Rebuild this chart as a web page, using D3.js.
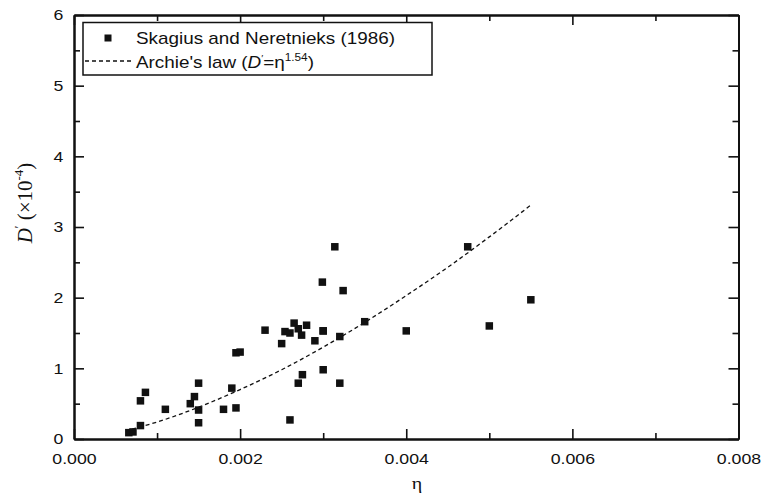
<!DOCTYPE html>
<html>
<head>
<meta charset="utf-8">
<script src="https://cdn.jsdelivr.net/npm/d3@7"></script>
<style>
    body { margin: 0; background: #fff; }
    text { font-family: "Liberation Sans", Arial, sans-serif; fill: #111; }
    .axis path, .axis line { stroke: #111; }
</style>
</head>
<body>
<svg id="chart" width="761" height="493"></svg>
<script>
// measured points, Skagius and Neretnieks (1986)
const etaValues = [0.00066, 0.00071, 0.0008, 0.0008, 0.00086, 0.0011, 0.0014, 0.00145, 0.0015, 0.0015,
    0.0015, 0.0018, 0.0019, 0.00195, 0.00195, 0.002, 0.0023, 0.0025, 0.00254, 0.0026,
    0.0026, 0.00265, 0.0027, 0.0027, 0.00274, 0.00275, 0.0028, 0.0029, 0.003, 0.003,
    0.003, 0.00299, 0.00314, 0.0032, 0.0032, 0.00324, 0.0035, 0.004, 0.00474, 0.005, 0.0055];
const dValues = [0.09, 0.1, 0.19, 0.54, 0.66, 0.42, 0.5, 0.6, 0.79, 0.41,
    0.23, 0.42, 0.72, 0.44, 1.22, 1.23, 1.54, 1.35, 1.52, 1.5,
    0.27, 1.64, 1.56, 0.79, 1.47, 0.91, 1.61, 1.39, 1.53, 0.98,
    1.53, 2.22, 2.72, 1.45, 0.79, 2.1, 1.66, 1.53, 2.72, 1.6, 1.97];

// Archie's law curve
const archieEta = [0.0007, 0.001, 0.0015, 0.002, 0.0025, 0.003, 0.0035, 0.004, 0.0045, 0.005, 0.0055];
const archieD = [0.14, 0.24, 0.45, 0.70, 0.98, 1.30, 1.65, 2.03, 2.43, 2.86, 3.31];

const xMajor = [0, 0.002, 0.004, 0.006, 0.008];
const xMinor = [0.001, 0.003, 0.005, 0.007];
const yMajor = [0, 1, 2, 3, 4, 5, 6];
const yMinor = [0.5, 1.5, 2.5, 3.5, 4.5, 5.5];

const svg = d3.select("#chart");
const stretch = 1.18;

const x = d3.scaleLinear().domain([0, 0.008]).range([74, 738.5]);
const y = d3.scaleLinear().domain([0, 6]).range([439, 15]);

function drawAxis(axis, transform, labels) {
    const g = svg.append("g")
      .attr("class", "axis")
      .attr("transform", transform)
      .call(axis);
    g.select(".domain").attr("stroke-width", 2);
    g.selectAll(".tick line").attr("stroke-width", 1.6);
    g.selectAll("text")
      .style("font-size", "15px")
      .style("opacity", labels ? 1 : 0)
      .attr("transform", `scale(${stretch},1)`);
    return g;
}

const fmtX = d3.format(".3f");
drawAxis(d3.axisBottom(x).tickValues(xMajor).tickFormat(fmtX).tickSizeInner(-10).tickSizeOuter(0).tickPadding(14),
    `translate(0,${y(0)})`, true);
drawAxis(d3.axisBottom(x).tickValues(xMinor).tickFormat("").tickSizeInner(-6).tickSizeOuter(0),
    `translate(0,${y(0)})`, false);
drawAxis(d3.axisTop(x).tickValues(xMajor).tickFormat("").tickSizeInner(-10).tickSizeOuter(0),
    `translate(0,${y(6)})`, false);
drawAxis(d3.axisTop(x).tickValues(xMinor).tickFormat("").tickSizeInner(-6).tickSizeOuter(0),
    `translate(0,${y(6)})`, false);
drawAxis(d3.axisLeft(y).tickValues(yMajor).tickFormat(d3.format("d")).tickSizeInner(-10).tickSizeOuter(0).tickPadding(9),
    `translate(${x(0)},0)`, true);
drawAxis(d3.axisLeft(y).tickValues(yMinor).tickFormat("").tickSizeInner(-6).tickSizeOuter(0),
    `translate(${x(0)},0)`, false);
drawAxis(d3.axisRight(y).tickValues(yMajor).tickFormat("").tickSizeInner(-10).tickSizeOuter(0),
    `translate(${x(0.008)},0)`, false);
drawAxis(d3.axisRight(y).tickValues(yMinor).tickFormat("").tickSizeInner(-6).tickSizeOuter(0),
    `translate(${x(0.008)},0)`, false);

// dashed Archie's law line
const curve = archieEta.map((e, i) => [e, archieD[i]]);
svg.append("path")
  .datum(curve)
  .attr("fill", "none")
  .attr("stroke", "#111")
  .attr("stroke-width", 1.3)
  .attr("stroke-dasharray", "4,3")
  .attr("d", d3.line().x(d => x(d[0])).y(d => y(d[1])).curve(d3.curveMonotoneX));

// square markers
const sq = 7.5;
svg.selectAll(".dot")
  .data(etaValues.map((e, i) => [e, dValues[i]]))
  .enter().append("rect")
  .attr("class", "dot")
  .attr("x", d => x(d[0]) - sq / 2)
  .attr("y", d => y(d[1]) - sq / 2)
  .attr("width", sq)
  .attr("height", sq)
  .attr("fill", "#111");

// legend
const lg = svg.append("g");
lg.append("rect")
  .attr("x", 83).attr("y", 22.5).attr("width", 349).attr("height", 52.5)
  .attr("fill", "#fff").attr("stroke", "#111").attr("stroke-width", 1.5);
lg.append("rect")
  .attr("x", 104.5).attr("y", 34.5).attr("width", 7).attr("height", 7).attr("fill", "#111");
lg.append("line")
  .attr("x1", 85).attr("x2", 132).attr("y1", 61).attr("y2", 61)
  .attr("stroke", "#111").attr("stroke-width", 1.3).attr("stroke-dasharray", "4,3");
lg.append("text")
  .attr("transform", `translate(136,43.5) scale(${stretch},1)`)
  .style("font-size", "16px")
  .text("Skagius and Neretnieks (1986)");
const t2 = lg.append("text")
  .attr("transform", `translate(136,68) scale(${stretch},1)`)
  .style("font-size", "16px");
t2.append("tspan").text("Archie's law (");
t2.append("tspan").style("font-style", "italic").text("D");
t2.append("tspan").attr("dy", -7).style("font-size", "9px").text("′");
t2.append("tspan").attr("dy", 7).text("=η");
t2.append("tspan").attr("dy", -7).style("font-size", "10px").text("1.54");
t2.append("tspan").attr("dy", 7).text(")");

// axis titles
svg.append("text")
  .attr("transform", `translate(417,489) scale(${stretch},1)`)
  .attr("text-anchor", "middle")
  .style("font-family", "'Liberation Serif', 'Times New Roman', serif")
  .style("font-size", "17px")
  .text("η");

const yl = svg.append("text")
  .attr("transform", "translate(32,203) rotate(-90)")
  .attr("text-anchor", "middle")
  .style("font-family", "'Liberation Serif', 'Times New Roman', serif")
  .style("font-size", "21px");
yl.append("tspan").style("font-style", "italic").text("D");
yl.append("tspan").attr("dy", -9).style("font-size", "12px").text("′");
yl.append("tspan").attr("dy", 9).text(" (×10");
yl.append("tspan").attr("dy", -9).style("font-size", "13px").text("-4");
yl.append("tspan").attr("dy", 9).text(")");
</script>
</body>
</html>
